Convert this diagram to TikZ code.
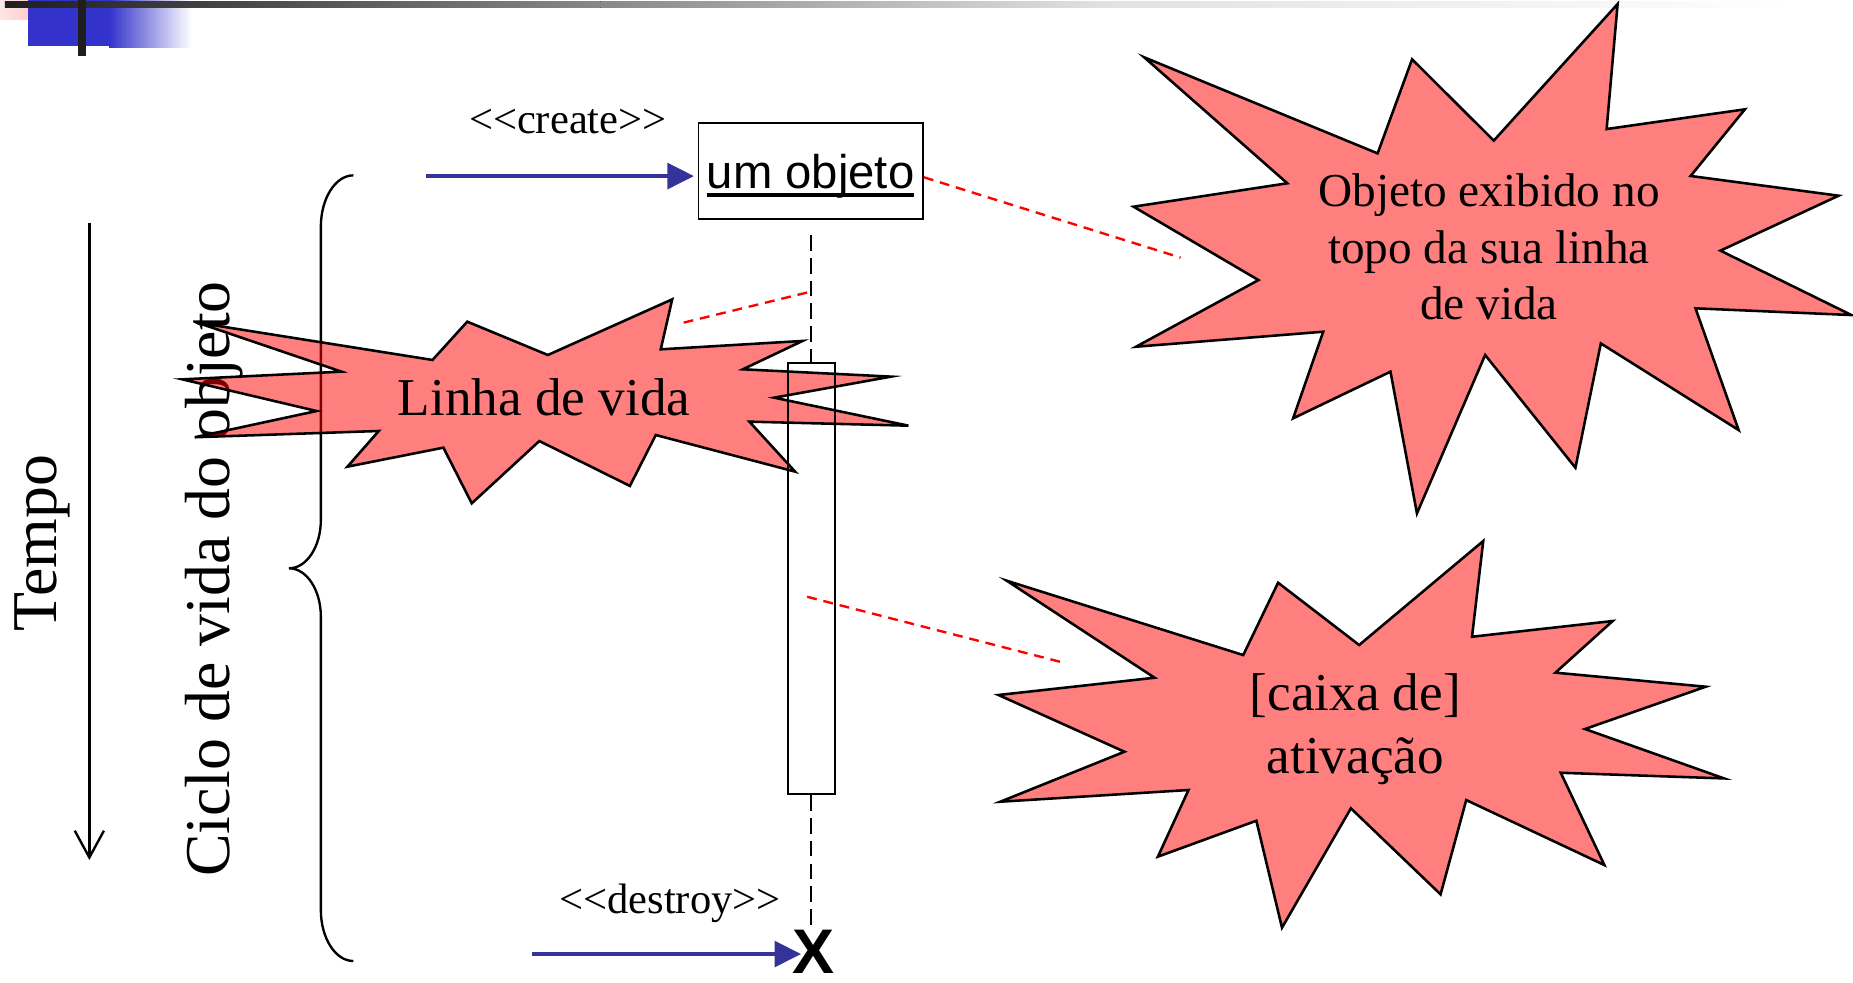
\documentclass[tikz,border=0pt]{standalone}
\usepackage{fontspec}
\setmainfont{Liberation Serif}
\newfontfamily\arialfont{Liberation Sans}
\usetikzlibrary{arrows.meta,calc}

\definecolor{umlblue}{RGB}{51,51,153}
\definecolor{barblue}{RGB}{51,51,204}
\definecolor{bar0}{RGB}{30,30,30}
\definecolor{bar1}{RGB}{136,136,136}
\definecolor{bar2}{RGB}{225,225,225}
\definecolor{pinkA}{RGB}{255,230,230}
\definecolor{pinkB}{RGB}{255,176,176}

% thick underline as in the object box
\newcommand{\thickul}[1]{\setbox0=\hbox{#1}\rlap{\rule[-4.6pt]{\wd0}{2pt}}\box0}

\begin{document}
\begin{tikzpicture}[x=0.6pt, y=-0.6pt,
  burst/.style={draw=black, line width=1.3pt, fill=red, fill opacity=0.5, line join=miter},
  note/.style={draw=red, line width=1.2pt, dash pattern=on 5pt off 3.5pt},
  lifeline/.style={draw=black, line width=1pt, dash pattern=on 8pt off 3.6pt},
  msg/.style={draw=umlblue, line width=2.1pt, -{Triangle[length=13.5pt, width=13pt]}},
  axisline/.style={draw=black, line width=1.2pt},
  big/.style={font=\fontsize{32.4pt}{38pt}\selectfont, inner sep=0, anchor=base},
  stereo/.style={font=\fontsize{21.6pt}{26pt}\selectfont, inner sep=0, anchor=base},
  burstbig/.style={font=\fontsize{27pt}{32pt}\selectfont, inner sep=0, anchor=base},
  burstsmall/.style={font=\fontsize{24pt}{29pt}\selectfont, inner sep=0, anchor=base},
]
\useasboundingbox (0,0) rectangle (1568,831);

% title bar ornaments
\fill[left color=pinkA, right color=pinkB] (0,0) rectangle (52.5,16.9);
\fill[barblue] (23.7,0) rectangle (92.6,38.9);
\fill[left color=barblue, right color=white] (92.3,0) rectangle (162,39.8);
\fill[left color=bar0, right color=bar1] (4.2,0.85) rectangle (508.5,6.5);
\fill[left color=bar1, right color=bar2] (508,0.85) rectangle (931.5,6.5);
\fill[left color=bar2, right color=white] (931,0.85) rectangle (1520,6.5);
\fill[bar0] (66,0) rectangle (72.8,47.4);

% time axis and lifetime labels
\node[big, rotate=90] (tempo) at (48,459.6) {Tempo};
\node[big, rotate=90] (ciclo) at (194.6,490) {Ciclo de vida do objeto};
\coordinate (tstart) at (75.6,188.4);
\coordinate (tend) at (75.6,727.7);
\draw[axisline, -{Straight Barb[length=13.6pt, width=14.8pt]}] (tstart) -- (tend);

% curly brace for the lifetime
\draw[axisline] (299,148.4) .. controls (283.8,148.4) and (271.5,167.9) .. (271.5,192)
  -- (271.5,440) .. controls (271.5,462.6) and (259.4,480.9) .. (244.6,480.9)
  .. controls (259.4,480.9) and (271.5,499.2) .. (271.5,521.8)
  -- (271.5,770) .. controls (271.5,793.8) and (283.8,813.2) .. (299,813.2);

% the object and its end mark
\node[draw, line width=0.9pt, minimum width=114pt, minimum height=48.6pt, inner sep=0,
      text height=20pt, text depth=2.12pt,
      font=\arialfont\fontsize{24pt}{29pt}\selectfont] (obj) at (686,144.5) {\thickul{um objeto}};
\node[font=\arialfont\bfseries\fontsize{32pt}{38pt}\selectfont, inner sep=0, anchor=base]
      (xmark) at (688.2,823.5) {X};

% annotation leaders
\coordinate (n1end) at (999,218);
\draw[note] ([yshift=-3.3pt]obj.east) -- (n1end);
\coordinate (n2start) at (578.5,273);
\coordinate (n2end) at (686,246.8);
\draw[note] (n2start) -- (n2end);
\coordinate (n3start) at (683,505);
\coordinate (n3end) at (899,560.5);
\draw[note] (n3start) -- (n3end);

% explosion callouts
\path[burst] (1368.8,3.4) -- (1359.5,109.2) -- (1476.5,92.5) -- (1430.6,148.9)
  -- (1555.8,165.6) -- (1455.8,212.1) -- (1566.7,266.6) -- (1434.7,260.9)
  -- (1471.2,363.9) -- (1354.6,290.6) -- (1333.1,395.8) -- (1256.7,300.4)
  -- (1199.0,434.4) -- (1176.6,314.5) -- (1094.2,354.0) -- (1119.7,280.7)
  -- (961.3,293.4) -- (1064.9,237.0) -- (959.2,174.9) -- (1089.3,155.1)
  -- (968.2,48.5) -- (1165.7,129.8) -- (1194.9,50.2) -- (1264.0,119.0) -- cycle;

\path[burst] (166.9,273.0) -- (366.0,304.6) -- (395.4,272.2) -- (463.6,300.4)
  -- (568.8,253.3) -- (559.1,295.6) -- (679.1,288.5) -- (628.6,312.5)
  -- (754.0,318.7) -- (655.1,336.5) -- (768.7,360.2) -- (634.1,356.8)
  -- (672.8,399.1) -- (554.9,368.1) -- (533.0,411.2) -- (456.4,373.2)
  -- (399.2,425.9) -- (375.2,378.8) -- (294.0,394.9) -- (320.5,364.7)
  -- (164.8,370.0) -- (267.9,347.8) -- (154.3,321.0) -- (289.0,314.5) -- cycle;

\path[burst] (851.9,491.4) -- (1052.0,554.3) -- (1081.5,493.1) -- (1150.1,545.8)
  -- (1255.1,457.8) -- (1245.6,538.8) -- (1364.6,525.5) -- (1316.2,569.2)
  -- (1443.3,581.1) -- (1341.2,616.9) -- (1458.9,658.7) -- (1320.7,653.9)
  -- (1357.6,732.0) -- (1240.7,677.0) -- (1219.0,756.8) -- (1143.1,684.0)
  -- (1084.8,785.0) -- (1063.1,694.5) -- (979.8,724.9) -- (1005.7,668.5)
  -- (846.5,678.4) -- (951.5,636.1) -- (844.9,588.1) -- (977.0,573.5) -- cycle;

% activation box and lifeline
\node[draw, line width=0.9pt, minimum width=23.8pt, minimum height=219pt, inner sep=0]
      (act) at (686.5,489.5) {};
\coordinate (ltop) at (686,198.8);
\draw[lifeline] (ltop) -- (ltop |- act.north);
\draw[lifeline] (act.south -| ltop) -- (xmark.north -| ltop);

% callout texts
\node[burstsmall] (obja) at (1259.9,174.7) {Objeto exibido no};
\node[burstsmall] (objb) at (1259.9,222.6) {topo da sua linha};
\node[burstsmall] (objc) at (1259.9,270.6) {de vida};
\node[burstbig] (linha) at (460.4,351.2) {Linha de vida};
\node[burstbig] (cxa) at (1146.8,600.8) {[caixa de]};
\node[burstbig] (cxb) at (1146.8,654.4) {ativação};

% messages
\coordinate (cstart) at (360.2,149);
\draw[msg] (cstart) -- ($(cstart -| obj.west)+(-3,0)$);
\node[stereo] (clabel) at (480.5,112.8) {<\kern0pt<create>\kern0pt>};
\coordinate (dstart) at (450,807.3);
\draw[msg] (dstart) -- ($(dstart -| xmark.west)+(7.8,0)$);
\node[stereo] (dlabel) at (567,772.8) {<\kern0pt<destroy>\kern0pt>};
\end{tikzpicture}
\end{document}
